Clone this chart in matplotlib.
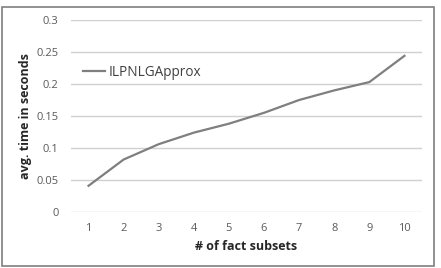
import matplotlib
matplotlib.use("Agg")
import matplotlib.pyplot as plt
from matplotlib.patches import Rectangle

categories = ["1", "2", "3", "4", "5", "6", "7", "8", "9", "10"]
values = [0.041, 0.082, 0.106, 0.124, 0.138, 0.155, 0.175, 0.190, 0.203, 0.244]
yticks = [0, 0.05, 0.1, 0.15, 0.2, 0.25, 0.3]
ytick_labels = ["0", "0.05", "0.1", "0.15", "0.2", "0.25", "0.3"]
series_name = "ILPNLGApprox"

plt.rcParams['font.family'] = ['Open Sans', 'DejaVu Sans']

fig = plt.figure(figsize=(4.41, 2.68), dpi=100)
fig.patch.set_facecolor("white")
fig.patches.append(Rectangle((2/441, 2/268), 432/441, 259/268, transform=fig.transFigure,
                             fill=False, edgecolor="#7f7f7f", linewidth=1.2))

ax = fig.add_axes([71/441, 56/268, 351/441, 192/268])
x = list(range(len(categories)))
ax.plot(x, values, color="#7f7f7f", linewidth=1.6, label=series_name)
ax.set_xlim(-0.5, len(categories) - 0.5)
ax.set_ylim(0, 0.3)
ax.set_yticks(yticks)
ax.set_yticklabels(ytick_labels)
ax.set_xticks(x)
ax.set_xticklabels(categories)
ax.grid(axis="y", color="#d0d0d0", linewidth=1.0)
ax.set_axisbelow(True)
for s in ax.spines.values():
    s.set_visible(False)
ax.tick_params(axis="both", length=0, labelsize=8, colors="#595959", pad=9)
ax.tick_params(axis="x", pad=8)
ax.set_xlabel("# of fact subsets", fontsize=9, fontweight="bold", color="#262626", labelpad=4)
ax.set_ylabel("avg. time in seconds", fontsize=9, fontweight="bold", color="#262626", labelpad=3)
leg = ax.legend(loc="upper left", bbox_to_anchor=(0.0, 0.83), frameon=False,
                fontsize=9.8, handlelength=1.6, handletextpad=0.3, labelcolor="#404040")
fig.savefig("out.png", dpi=100)
